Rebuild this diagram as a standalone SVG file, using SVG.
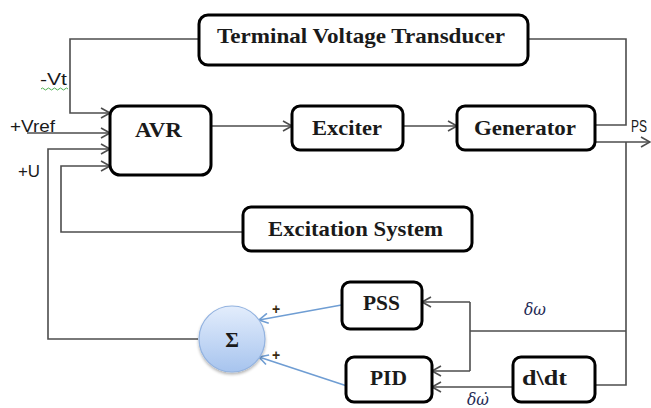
<svg xmlns="http://www.w3.org/2000/svg" width="651" height="408" viewBox="0 0 651 408">
<defs>
<style>
.box{fill:#fff;stroke:#000;stroke-width:3}
.bt{font-family:"Liberation Serif","Times New Roman",serif;font-weight:bold;font-size:21px;fill:#1a1a1a}
.ln{fill:none;stroke:#4d4d4d;stroke-width:1.6}
.bl{fill:none;stroke:#6f9dd3;stroke-width:1.6}
.lb{font-family:"Liberation Sans",Arial,sans-serif;font-size:16px;fill:#1a1a1a}
.gk{font-family:"DejaVu Serif","Liberation Serif",serif;font-style:italic;font-size:16px;fill:#1f2a55}
.pl{font-family:"Liberation Sans",Arial,sans-serif;font-size:14px;font-weight:bold;fill:#3a2a10}
</style>
<marker id="ah" markerWidth="12" markerHeight="12" refX="10" refY="6" orient="auto" markerUnits="userSpaceOnUse">
<path d="M1,1 L10,6 L1,11" fill="none" stroke="#4d4d4d" stroke-width="1.6"/>
</marker>
<marker id="ahb" markerWidth="12" markerHeight="12" refX="10" refY="6" orient="auto" markerUnits="userSpaceOnUse">
<path d="M1,1 L10,6 L1,11" fill="none" stroke="#6f9dd3" stroke-width="1.6"/>
</marker>
<linearGradient id="sg" x1="0" y1="0" x2="0" y2="1">
<stop offset="0" stop-color="#e3edfc"/>
<stop offset="1" stop-color="#a7c4ee"/>
</linearGradient>
<filter id="sh" x="-30%" y="-30%" width="160%" height="160%">
<feGaussianBlur in="SourceAlpha" stdDeviation="1.5"/>
<feOffset dx="0" dy="2" result="b"/>
<feComponentTransfer><feFuncA type="linear" slope="0.3"/></feComponentTransfer>
<feMerge><feMergeNode/><feMergeNode in="SourceGraphic"/></feMerge>
</filter>
</defs>
<rect width="651" height="408" fill="#fff"/>

<g id="connectors">
<polyline class="ln" points="198,39 70,39 70,113 110,113" marker-end="url(#ah)"/>
<polyline class="ln" points="27,133 110,133" marker-end="url(#ah)"/>
<polyline class="ln" points="198,339 48,339 48,149 110,149" marker-end="url(#ah)"/>
<polyline class="ln" points="243,232 61,232 61,166 110,166" marker-end="url(#ah)"/>
<polyline class="ln" points="211,126 292,126" marker-end="url(#ah)"/>
<polyline class="ln" points="403,126 457,126" marker-end="url(#ah)"/>
<polyline class="ln" points="595,125 626,125 626,39 528,39"/>
<polyline class="ln" points="595,142 650,142" marker-end="url(#ah)"/>
<polyline class="ln" points="626,142 626,385 595,385"/>
<polyline class="ln" points="626,331 470,331"/>
<polyline class="ln" points="470,302 470,371"/>
<polyline class="ln" points="470,302 422,302" marker-end="url(#ah)"/>
<polyline class="ln" points="470,371 432,371" marker-end="url(#ah)"/>
<polyline class="ln" points="513,387 432,387" marker-end="url(#ah)"/>
<polyline class="bl" points="347,304 259,320" marker-end="url(#ahb)"/>
<polyline class="bl" points="347,386 259,357" marker-end="url(#ahb)"/>
</g>

<g id="labels">
<text class="lb" x="40" y="85" textLength="27" lengthAdjust="spacingAndGlyphs">-Vt</text>
<path d="M41,89 q1.5,-2 3,0 t3,0 t3,0 t3,0 t3,0 t3,0 t3,0 t3,0 t3,0" fill="none" stroke="#4caf50" stroke-width="1"/>
<text class="lb" x="10" y="132" textLength="45" lengthAdjust="spacingAndGlyphs">+Vref</text>
<text class="lb" x="18" y="177" textLength="22" lengthAdjust="spacingAndGlyphs">+U</text>
<text class="lb" x="631" y="132" font-size="14" textLength="16" lengthAdjust="spacingAndGlyphs">PS</text>
<text class="gk" x="524" y="315" textLength="22" lengthAdjust="spacingAndGlyphs">δω</text>
<text class="gk" x="467" y="405" textLength="22" lengthAdjust="spacingAndGlyphs">δω̇</text>
<text class="pl" x="272" y="314">+</text>
<text class="pl" x="272" y="360">+</text>
</g>

<g id="tvt">
<rect class="box" x="199" y="15" width="329" height="50" rx="9"/>
<text class="bt" x="217" y="43" textLength="288" lengthAdjust="spacingAndGlyphs">Terminal Voltage Transducer</text>
</g>
<g id="avr">
<rect class="box" x="110" y="106" width="101" height="69" rx="10"/>
<text class="bt" x="135" y="137" textLength="47" lengthAdjust="spacingAndGlyphs">AVR</text>
</g>
<g id="exciter">
<rect class="box" x="292" y="106" width="111" height="44" rx="8"/>
<text class="bt" x="312" y="135" textLength="70" lengthAdjust="spacingAndGlyphs">Exciter</text>
</g>
<g id="generator">
<rect class="box" x="457" y="106" width="138" height="44" rx="8"/>
<text class="bt" x="474" y="135" textLength="102" lengthAdjust="spacingAndGlyphs">Generator</text>
</g>
<g id="excitation">
<rect class="box" x="243" y="207" width="229" height="44" rx="8"/>
<text class="bt" x="268" y="236" textLength="175" lengthAdjust="spacingAndGlyphs">Excitation System</text>
</g>
<g id="pss">
<rect class="box" x="342" y="282" width="80" height="47" rx="8"/>
<text class="bt" x="363" y="310" textLength="37" lengthAdjust="spacingAndGlyphs">PSS</text>
</g>
<g id="pid">
<rect class="box" x="346" y="357" width="86" height="45" rx="8"/>
<text class="bt" x="370" y="385" textLength="37" lengthAdjust="spacingAndGlyphs">PID</text>
</g>
<g id="ddt">
<rect class="box" x="513" y="357" width="82" height="45" rx="8"/>
<text class="bt" x="522" y="385" textLength="45" lengthAdjust="spacingAndGlyphs">d\dt</text>
</g>
<g id="sum">
<circle cx="232" cy="339" r="33" fill="url(#sg)" stroke="#93b3e0" stroke-width="1.2" filter="url(#sh)"/>
<text class="bt" x="232" y="347" text-anchor="middle" font-size="22">Σ</text>
</g>
</svg>
